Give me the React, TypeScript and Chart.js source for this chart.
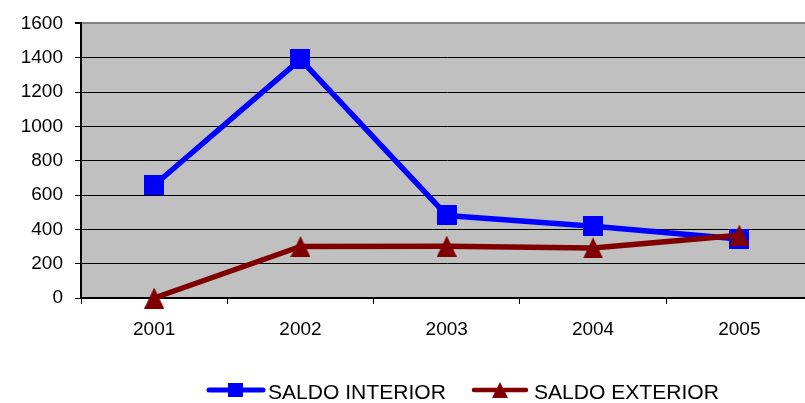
import React, { useEffect, useRef } from "react";
import { Chart, registerables } from "chart.js";

Chart.register(...registerables);

const categories = ["2001", "2002", "2003", "2004", "2005"];
const saldoInterior = [657, 1390, 481, 418, 344];
const saldoExterior = [0, 300, 302, 292, 366];
const seriesNames = ["SALDO INTERIOR", "SALDO EXTERIOR"];
const yMin = 0;
const yMax = 1600;
const yStep = 200;

const BLUE = "#0000FF";
const DARKRED = "#800000";
const FONT = "'Liberation Sans', Arial, sans-serif";

function makeSquare(size: number, color: string) {
  const c = document.createElement("canvas");
  c.width = size;
  c.height = size;
  const g = c.getContext("2d")!;
  g.fillStyle = color;
  g.fillRect(0, 0, size, size);
  return c;
}

function makeTriangle(w: number, h: number, color: string) {
  const c = document.createElement("canvas");
  c.width = w;
  c.height = h;
  const g = c.getContext("2d")!;
  g.fillStyle = color;
  g.beginPath();
  g.moveTo(w / 2, 0);
  g.lineTo(w, h);
  g.lineTo(0, h);
  g.closePath();
  g.fill();
  return c;
}

const bgPlugin = {
  id: "plotBg",
  beforeDraw(chart: any) {
    const { ctx, chartArea } = chart;
    ctx.save();
    ctx.fillStyle = "#C0C0C0";
    ctx.fillRect(chartArea.left, chartArea.top, chartArea.right - chartArea.left, chartArea.bottom - chartArea.top);
    ctx.restore();
  },
};

const legendPlugin = {
  id: "customLegend",
  afterDraw(chart: any) {
    const ctx = chart.ctx as CanvasRenderingContext2D;
    const y = 390;
    ctx.save();
    ctx.strokeStyle = BLUE;
    ctx.lineWidth = 5;
    ctx.lineCap = "round";
    ctx.beginPath();
    ctx.moveTo(209, y);
    ctx.lineTo(263, y);
    ctx.stroke();
    ctx.fillStyle = BLUE;
    ctx.fillRect(228, y - 7, 15, 14);
    ctx.strokeStyle = DARKRED;
    ctx.lineWidth = 4.5;
    ctx.beginPath();
    ctx.moveTo(474, y);
    ctx.lineTo(526, y);
    ctx.stroke();
    ctx.fillStyle = DARKRED;
    ctx.beginPath();
    ctx.moveTo(500, y - 8);
    ctx.lineTo(508, y + 8);
    ctx.lineTo(492, y + 8);
    ctx.closePath();
    ctx.fill();
    ctx.fillStyle = "#000";
    ctx.font = `19.5px ${FONT}`;
    ctx.textBaseline = "alphabetic";
    ctx.textAlign = "left";
    const texts: [string, number][] = [
      [seriesNames[0], 268],
      [seriesNames[1], 534],
    ];
    for (const [t, x] of texts) {
      ctx.save();
      ctx.translate(x, 399);
      ctx.scale(1.08, 1);
      ctx.fillText(t, 0, 0);
      ctx.restore();
    }
    ctx.restore();
  },
};

export default function App() {
  const ref = useRef<HTMLCanvasElement>(null);

  useEffect(() => {
    const canvas = ref.current!;
    const square = makeSquare(20, BLUE);
    const triangle = makeTriangle(20, 21, DARKRED);
    const chart = new Chart(canvas, {
      type: "line",
      data: {
        labels: categories,
        datasets: [
          {
            label: seriesNames[0],
            data: saldoInterior,
            borderColor: BLUE,
            backgroundColor: BLUE,
            borderWidth: 5.5,
            borderJoinStyle: "round",
            borderCapStyle: "round",
            pointStyle: square as any,
            pointRadius: 10,
            tension: 0,
            clip: false as any,
            order: 2,
          },
          {
            label: seriesNames[1],
            data: saldoExterior,
            borderColor: DARKRED,
            backgroundColor: DARKRED,
            borderWidth: 5.5,
            borderJoinStyle: "round",
            borderCapStyle: "round",
            pointStyle: triangle as any,
            pointRadius: 10,
            tension: 0,
            clip: false as any,
            order: 1,
          },
        ],
      },
      options: {
        responsive: false,
        animation: false,
        devicePixelRatio: 1,
        events: [],
        layout: { padding: { top: 23, left: 0, right: 0, bottom: 0 } },
        plugins: {
          legend: { display: false },
          tooltip: { enabled: false },
          title: { display: false },
        },
        scales: {
          x: {
            type: "category",
            offset: true,
            afterFit: (scale: any) => {
              scale.height = 105;
              scale.paddingLeft = 0;
              scale.paddingRight = 0;
            },
            grid: {
              offset: true,
              drawOnChartArea: false,
              drawTicks: true,
              tickLength: 6,
              color: "#000",
              tickColor: "#000",
            },
            border: { display: true, color: "#000", width: 2 },
            ticks: {
              color: "#000",
              font: { family: FONT, size: 19 },
              padding: 14,
              maxRotation: 0,
              autoSkip: false,
            },
          },
          y: {
            min: yMin,
            max: yMax,
            afterFit: (scale: any) => {
              scale.width = 81;
            },
            grid: {
              color: (c: any) => (c.tick && c.tick.value === yMax ? "#808080" : "#000"),
              lineWidth: (c: any) => (c.tick && c.tick.value === yMax ? 2 : 1),
              tickColor: "#000",
              tickLength: 6,
              drawTicks: true,
            },
            border: { display: true, color: "#000", width: 2 },
            ticks: {
              stepSize: yStep,
              color: "#000",
              font: { family: FONT, size: 19 },
              padding: 12,
              callback: (v: any) => String(v),
            },
          },
        },
      },
      plugins: [bgPlugin, legendPlugin],
    });
    return () => chart.destroy();
  }, []);

  return (
    <div
      style={{
        position: "absolute",
        left: 0,
        top: 0,
        width: 805,
        height: 403,
        overflow: "hidden",
        background: "#fff",
      }}
    >
      <canvas ref={ref} width={828} height={403} style={{ display: "block" }} />
    </div>
  );
}
